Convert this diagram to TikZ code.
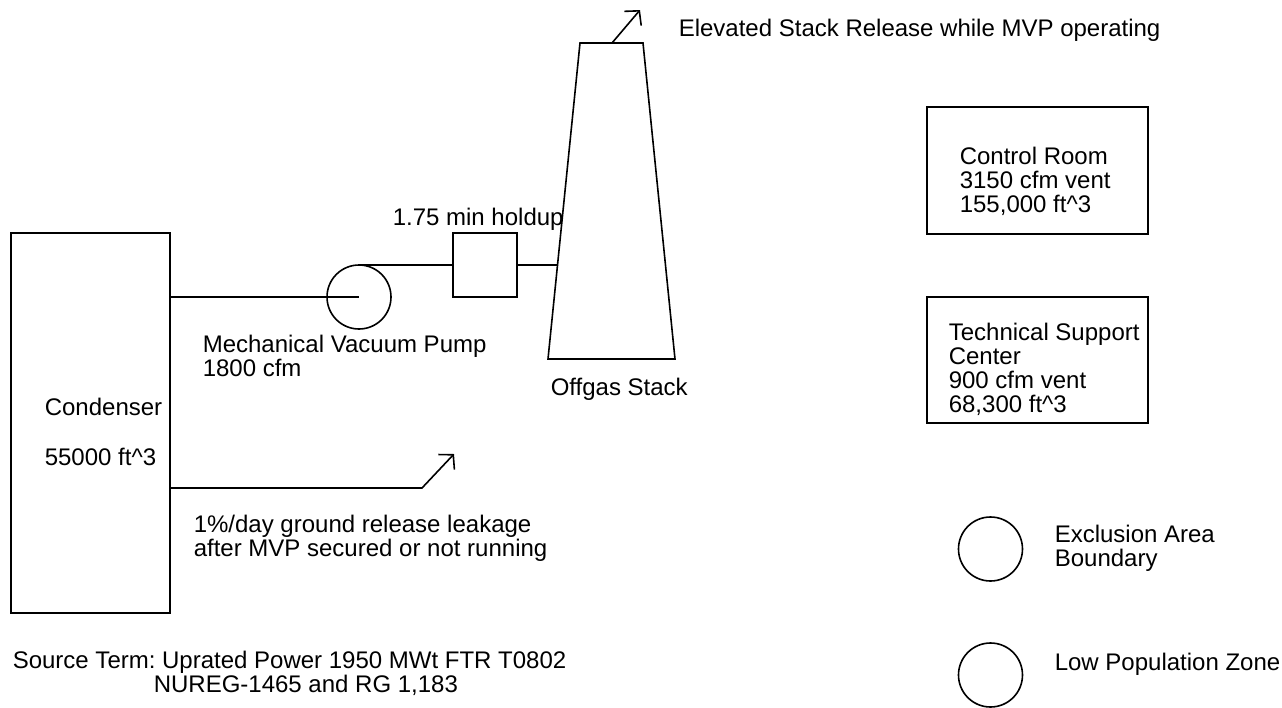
\documentclass[tikz,border=0pt]{standalone}
\usepackage{fontspec}
\setmainfont{Liberation Sans}
\usetikzlibrary{arrows.meta,positioning,calc}
\frenchspacing

\begin{document}
\begin{tikzpicture}[
  x=0.5pt, y=-0.5pt,
  font=\fontsize{12}{12}\selectfont,
  line width=0.8pt,
  box/.style={draw, inner sep=0pt, outer sep=0pt},
  ring/.style={draw, circle, minimum size=32pt, inner sep=0pt, outer sep=0pt},
  note/.style={anchor=base west, inner sep=0pt, align=left},
  release/.style={-{Straight Barb[length=5pt, width=11pt]}}
]
\useasboundingbox (0,0) rectangle (1282,708);

% plant side
\node[box, minimum width=79.5pt, minimum height=190pt] (cond) at (90.5,423) {};
\node[ring] (pump) at (359,297) {};
\node[box, minimum size=32pt] (holdup) at (485,265) {};

\coordinate (stacktl) at (580,43);
\coordinate (stacktr) at (643,43);
\coordinate (stackbr) at (675,359);
\coordinate (stackbl) at (548,359);
\draw (stacktl) -- (stacktr) -- (stackbr) -- (stackbl) -- cycle;
\coordinate (stacktop) at (612,43);
\coordinate (stackin) at ($(stacktl)!0.7025!(stackbl)$);
\coordinate (plume) at (640,10);
\coordinate (leakbend) at (422,488);
\coordinate (leak) at (454,454);

\draw (cond.east |- pump) -- (pump.center);
\draw (pump.north) -- (holdup.west);
\draw (holdup.east) -- (stackin);
\draw[release] (stacktop) -- (plume);
\draw[release] (cond.east |- leakbend) -- (leakbend) -- (leak);

% receptors
\node[box, minimum width=110.5pt, minimum height=63.5pt] (cr) at (1037.5,170.5) {};
\node[box, minimum width=110.5pt, minimum height=63pt, below=31.5pt of cr] (tsc) {};
\node[ring] (eab) at (990.5,549) {};
\node[ring, below=31pt of eab] (lpz) {};

% texts (base = last line)
\node[note] (elevtxt) at (678,36) {Elevated Stack Release while MVP operating};
\node[note] (holdtxt) at (392,225) {1.75 min holdup};
\node[note] (crtxt) at (959,212) {Control Room\\3150 cfm vent\\155,000 ft\textasciicircum3};
\node[note] (tsctxt) at (948,412) {Technical Support\\Center\\900 cfm vent\\68,300 ft\textasciicircum3};
\node[note] (eabtxt) at (1054,566) {Exclusion Area\\Boundary};
\node[note] (lpztxt) at (1054,670) {Low Population Zone};
\node[note] (condtxt) at (44,465) {Condenser\\[13pt]55000 ft\textasciicircum3};
\node[note] (pumptxt) at (202,376) {Mechanical Vacuum Pump\\1800 cfm};
\node[note] (leaktxt) at (193,556) {1\%/day ground release leakage\\after MVP secured or not running};
\node[note] (stacktxt) at (550,395) {Offgas Stack};
\node[note] (srctxt) at (12,668) {Source Term: Uprated Power 1950 MWt FTR T0802};
\node[note] (regtxt) at (153,692) {NUREG-1465 and RG 1,183};
\end{tikzpicture}
\end{document}
